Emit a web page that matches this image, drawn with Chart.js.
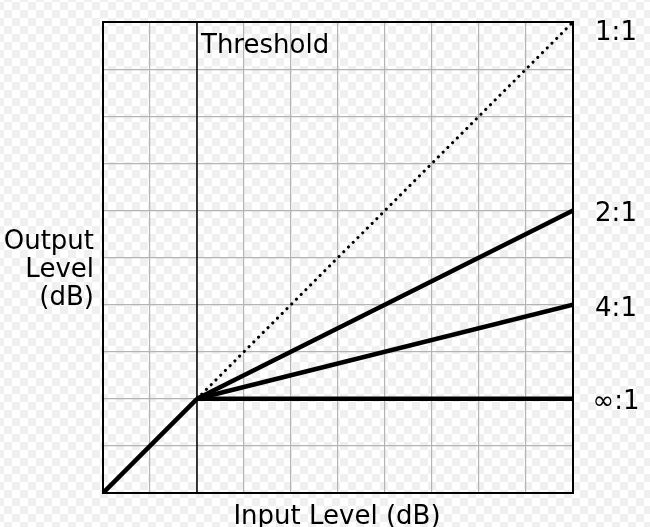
<!DOCTYPE html>
<html>
<head>
<meta charset="utf-8">
<script src="https://cdn.jsdelivr.net/npm/chart.js@4/dist/chart.umd.min.js"></script>
<style>
  html, body {
    margin: 0;
    padding: 0;
    width: 650px;
    height: 527px;
    overflow: hidden;
    background: repeating-conic-gradient(#f0f0f0 0 25%, #ffffff 0 50%) 4px 2px / 16px 16px;
  }
  canvas { display: block; }
</style>
</head>
<body>
<canvas id="compChart" width="650" height="527"></canvas>
<script>
// compressor transfer curve, both axes in grid units 0..10
const inputMax = 10
const threshold = 2
const kneeInput = [0, 2]
const kneeOutput = [0, 2]
const ratioLabels = ['1:1', '2:1', '4:1', '∞:1']
const ratioEndOutput = [10, 6, 4, 2]
const xTitle = 'Input Level (dB)'
const yTitleLines = ['Output', 'Level', '(dB)']
const thresholdLabel = 'Threshold'

const FONT = '26px "DejaVu Sans"'

const datasets = []

// threshold marker
datasets.push({
    data: [{ x: threshold, y: 0 }, { x: threshold, y: inputMax }],
    borderColor: '#000',
    borderWidth: 1.5,
    pointRadius: 0
})

// below threshold everything is 1:1
datasets.push({
    data: kneeInput.map((x, i) => ({ x: x, y: kneeOutput[i] })),
    borderColor: '#000',
    borderWidth: 4.5,
    pointRadius: 0
})

ratioEndOutput.forEach((out, i) => {
    const dotted = ratioLabels[i] === '1:1'
    datasets.push({
        data: [{ x: threshold, y: threshold }, { x: inputMax, y: out }],
        borderColor: '#000',
        borderWidth: dotted ? 3 : 4.5,
        borderDash: dotted ? [0.1, 6.6] : [],
        borderCapStyle: dotted ? 'round' : 'butt',
        pointRadius: 0
    })
})

const labelsPlugin = {
    id: 'labels',
    afterDraw(chart) {
        const ctx = chart.ctx
        const area = chart.chartArea
        const xs = chart.scales.x
        const ys = chart.scales.y
        ctx.save()
        // plot frame
        ctx.strokeStyle = '#000'
        ctx.lineWidth = 2
        ctx.strokeRect(area.left, area.top, area.right - area.left, area.bottom - area.top)

        ctx.fillStyle = '#000'
        ctx.font = FONT
        ctx.textBaseline = 'alphabetic'

        ctx.textAlign = 'left'
        ctx.fillText(thresholdLabel, xs.getPixelForValue(threshold) + 4, area.top + 31)

        ctx.textAlign = 'center'
        ratioLabels.forEach((lab, i) => {
            let y = ys.getPixelForValue(ratioEndOutput[i])
            if (i === 0) y += 7
            if (i === 3) y -= 1
            ctx.fillText(lab, area.right + 43, y + 11)
        })

        ctx.fillText(xTitle, (area.left + area.right) / 2 - 1, area.bottom + 31)

        ctx.textAlign = 'right'
        yTitleLines.forEach((line, i) => {
            ctx.fillText(line, 94, 249 + i * 28)
        })
        ctx.restore()
    }
}

const ctx = document.getElementById('compChart').getContext('2d')
const compChart = new Chart(ctx, {
    type: 'scatter',
    data: { datasets: datasets },
    options: {
        responsive: false,
        animation: false,
        showLine: true,
        layout: { padding: { left: 103, right: 77, top: 22, bottom: 34 } },
        plugins: {
            legend: { display: false },
            tooltip: { enabled: false }
        },
        scales: {
            x: {
                type: 'linear',
                min: 0,
                max: inputMax,
                ticks: { display: false, stepSize: 1 },
                grid: { color: '#b4b4b4', lineWidth: 1.2, drawTicks: false },
                border: { display: false }
            },
            y: {
                type: 'linear',
                min: 0,
                max: inputMax,
                ticks: { display: false, stepSize: 1 },
                grid: { color: '#b4b4b4', lineWidth: 1.2, drawTicks: false },
                border: { display: false }
            }
        }
    },
    plugins: [labelsPlugin]
})
</script>
</body>
</html>
